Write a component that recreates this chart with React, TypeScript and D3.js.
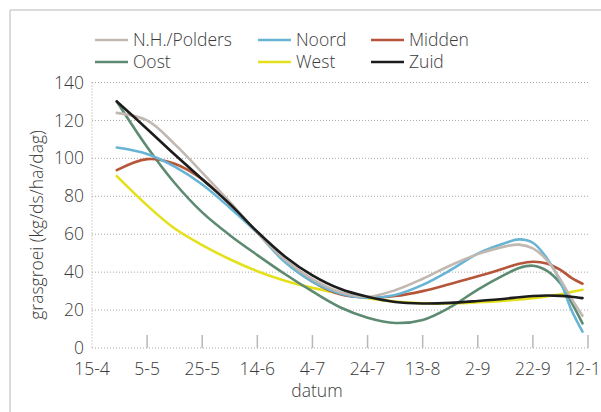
import React from "react";
import * as d3 from "d3";

const W = 601;
const H = 412;

const tickDates = ["04-15", "05-05", "05-25", "06-14", "07-04", "07-24", "08-13", "09-02", "09-22", "10-12"];
const tickLabels = ["15-4", "5-5", "25-5", "14-6", "4-7", "24-7", "13-8", "2-9", "22-9", "12-10"];
const yTicks = [0, 20, 40, 60, 80, 100, 120, 140];

const sampleDates = [
  "04-24", "05-05", "05-15", "05-25", "06-04", "06-14", "06-24", "07-04", "07-14", "07-24", "08-03",
  "08-13", "08-23", "09-02", "09-12", "09-17", "09-22", "09-27", "10-02", "10-06", "10-10",
];

const nhPolders = [124, 120, 107.5, 92.5, 77, 60.8, 46.5, 36.3, 29.5, 27, 30.5, 36.5, 43.5, 49.5, 53.6, 54.5, 52.5, 46.5, 36, 26, 17];
const noord = [105.7, 102.3, 95.6, 86.2, 74, 60.7, 45.3, 35, 28.8, 26.5, 28, 33.3, 41, 49.8, 55.4, 57.3, 55.5, 47.5, 35, 20, 8.6];
const midden = [93.8, 99.6, 97.2, 89, 75.8, 60.8, 45.8, 35, 28.3, 26.6, 27.4, 30, 33.8, 37.8, 42.2, 44.4, 45.5, 44.6, 41.2, 37, 33.9];
const oost = [130, 106, 87, 71.5, 59.5, 49, 39, 29.8, 21.5, 16, 13.2, 14.8, 21.5, 30.8, 38.8, 42.2, 43.4, 40.8, 34, 24, 13];
const west = [90.6, 75.2, 63, 54.3, 46.8, 40.5, 35.5, 31.7, 28.8, 26.3, 24.5, 23.6, 23.5, 24.1, 25, 25.6, 26.3, 27.2, 28.3, 29.6, 30.7];
const zuid = [130, 115.5, 102, 89, 76, 61.3, 48.3, 38.3, 31.2, 27, 24.3, 23.5, 23.8, 24.8, 26, 26.8, 27.4, 27.7, 27.5, 27, 26.3];

const seriesNames = ["N.H./Polders", "Noord", "Midden", "Oost", "West", "Zuid"];
const seriesValues = [nhPolders, noord, midden, oost, west, zuid];
const seriesColors = ["#c1b8b1", "#68b4d4", "#b5563a", "#5d8b72", "#e4e11c", "#1c1c1c"];
const drawOrder = [4, 3, 2, 1, 0, 5];

const parse = d3.utcParse("%Y-%m-%d");
const toDate = (s: string) => parse("2017-" + s) as Date;

const FONT = "'Open Sans', 'Liberation Sans', sans-serif";
const TEXT = "#3a3a3a";
const FS = 17.5;

export default function App() {
  const x = d3
    .scaleUtc()
    .domain([toDate(tickDates[0]), toDate(tickDates[tickDates.length - 1])])
    .range([92, 588]);
  const y = d3.scaleLinear().domain([0, 140]).range([348, 82.5]);

  const line = d3
    .line<[Date, number]>()
    .x((d) => x(d[0]))
    .y((d) => y(d[1]))
    .curve(d3.curveCatmullRom.alpha(0.5));

  const legendX = [95, 258, 371];
  const legendY = [40, 62];

  return (
    <svg
      width={W}
      height={H}
      style={{ position: "absolute", left: 0, top: 0, background: "#fff" }}
      fontFamily={FONT}
      fontWeight={300}
    >
      <line x1={10} y1={10} x2={W} y2={10} stroke="#cfcfcf" strokeWidth={1.5} />
      <line x1={10} y1={10} x2={10} y2={H} stroke="#cfcfcf" strokeWidth={1.5} />

      {yTicks.map((t) => (
        <line
          key={"g" + t}
          x1={x.range()[0]}
          x2={x.range()[1]}
          y1={y(t)}
          y2={y(t)}
          stroke="#a8a8a8"
          strokeWidth={1}
          strokeDasharray="1,2"
        />
      ))}
      <line
        x1={x.range()[0]}
        x2={x.range()[0]}
        y1={y(140)}
        y2={y(0)}
        stroke="#a8a8a8"
        strokeWidth={1}
        strokeDasharray="1,2"
      />
      {tickDates.slice(1).map((d) => (
        <line
          key={"t" + d}
          x1={x(toDate(d))}
          x2={x(toDate(d))}
          y1={y(0) - 13}
          y2={y(0)}
          stroke="#b8b8b8"
          strokeWidth={1.5}
        />
      ))}

      {yTicks.map((t) => (
        <text key={"yl" + t} x={84} y={y(t)} dy="0.35em" textAnchor="end" fontSize={FS} fill={TEXT}>
          {t}
        </text>
      ))}
      {tickDates.map((d, i) => (
        <text key={"xl" + d} x={x(toDate(d))} y={375} textAnchor="middle" fontSize={FS} fill={TEXT}>
          {tickLabels[i]}
        </text>
      ))}

      <text x={317} y={397} textAnchor="middle" fontSize={FS} fill={TEXT}>
        datum
      </text>
      <text transform="translate(43,225) rotate(-90)" textAnchor="middle" fontSize={FS} fill={TEXT}>
        grasgroei (kg/ds/ha/dag)
      </text>

      {drawOrder.map((i) => {
        const pts: [Date, number][] = sampleDates.map((d, j) => [toDate(d), seriesValues[i][j]]);
        return (
          <path
            key={"s" + i}
            d={line(pts) || ""}
            fill="none"
            stroke={seriesColors[i]}
            strokeWidth={2.6}
            strokeLinecap="round"
          />
        );
      })}

      {seriesNames.map((n, i) => {
        const lx = legendX[i % 3];
        const ly = legendY[Math.floor(i / 3)];
        return (
          <g key={"lg" + n}>
            <line x1={lx} x2={lx + 33} y1={ly} y2={ly} stroke={seriesColors[i]} strokeWidth={2.6} />
            <text x={lx + 38} y={ly} dy="0.35em" fontSize={FS} fill={TEXT}>
              {n}
            </text>
          </g>
        );
      })}
    </svg>
  );
}
